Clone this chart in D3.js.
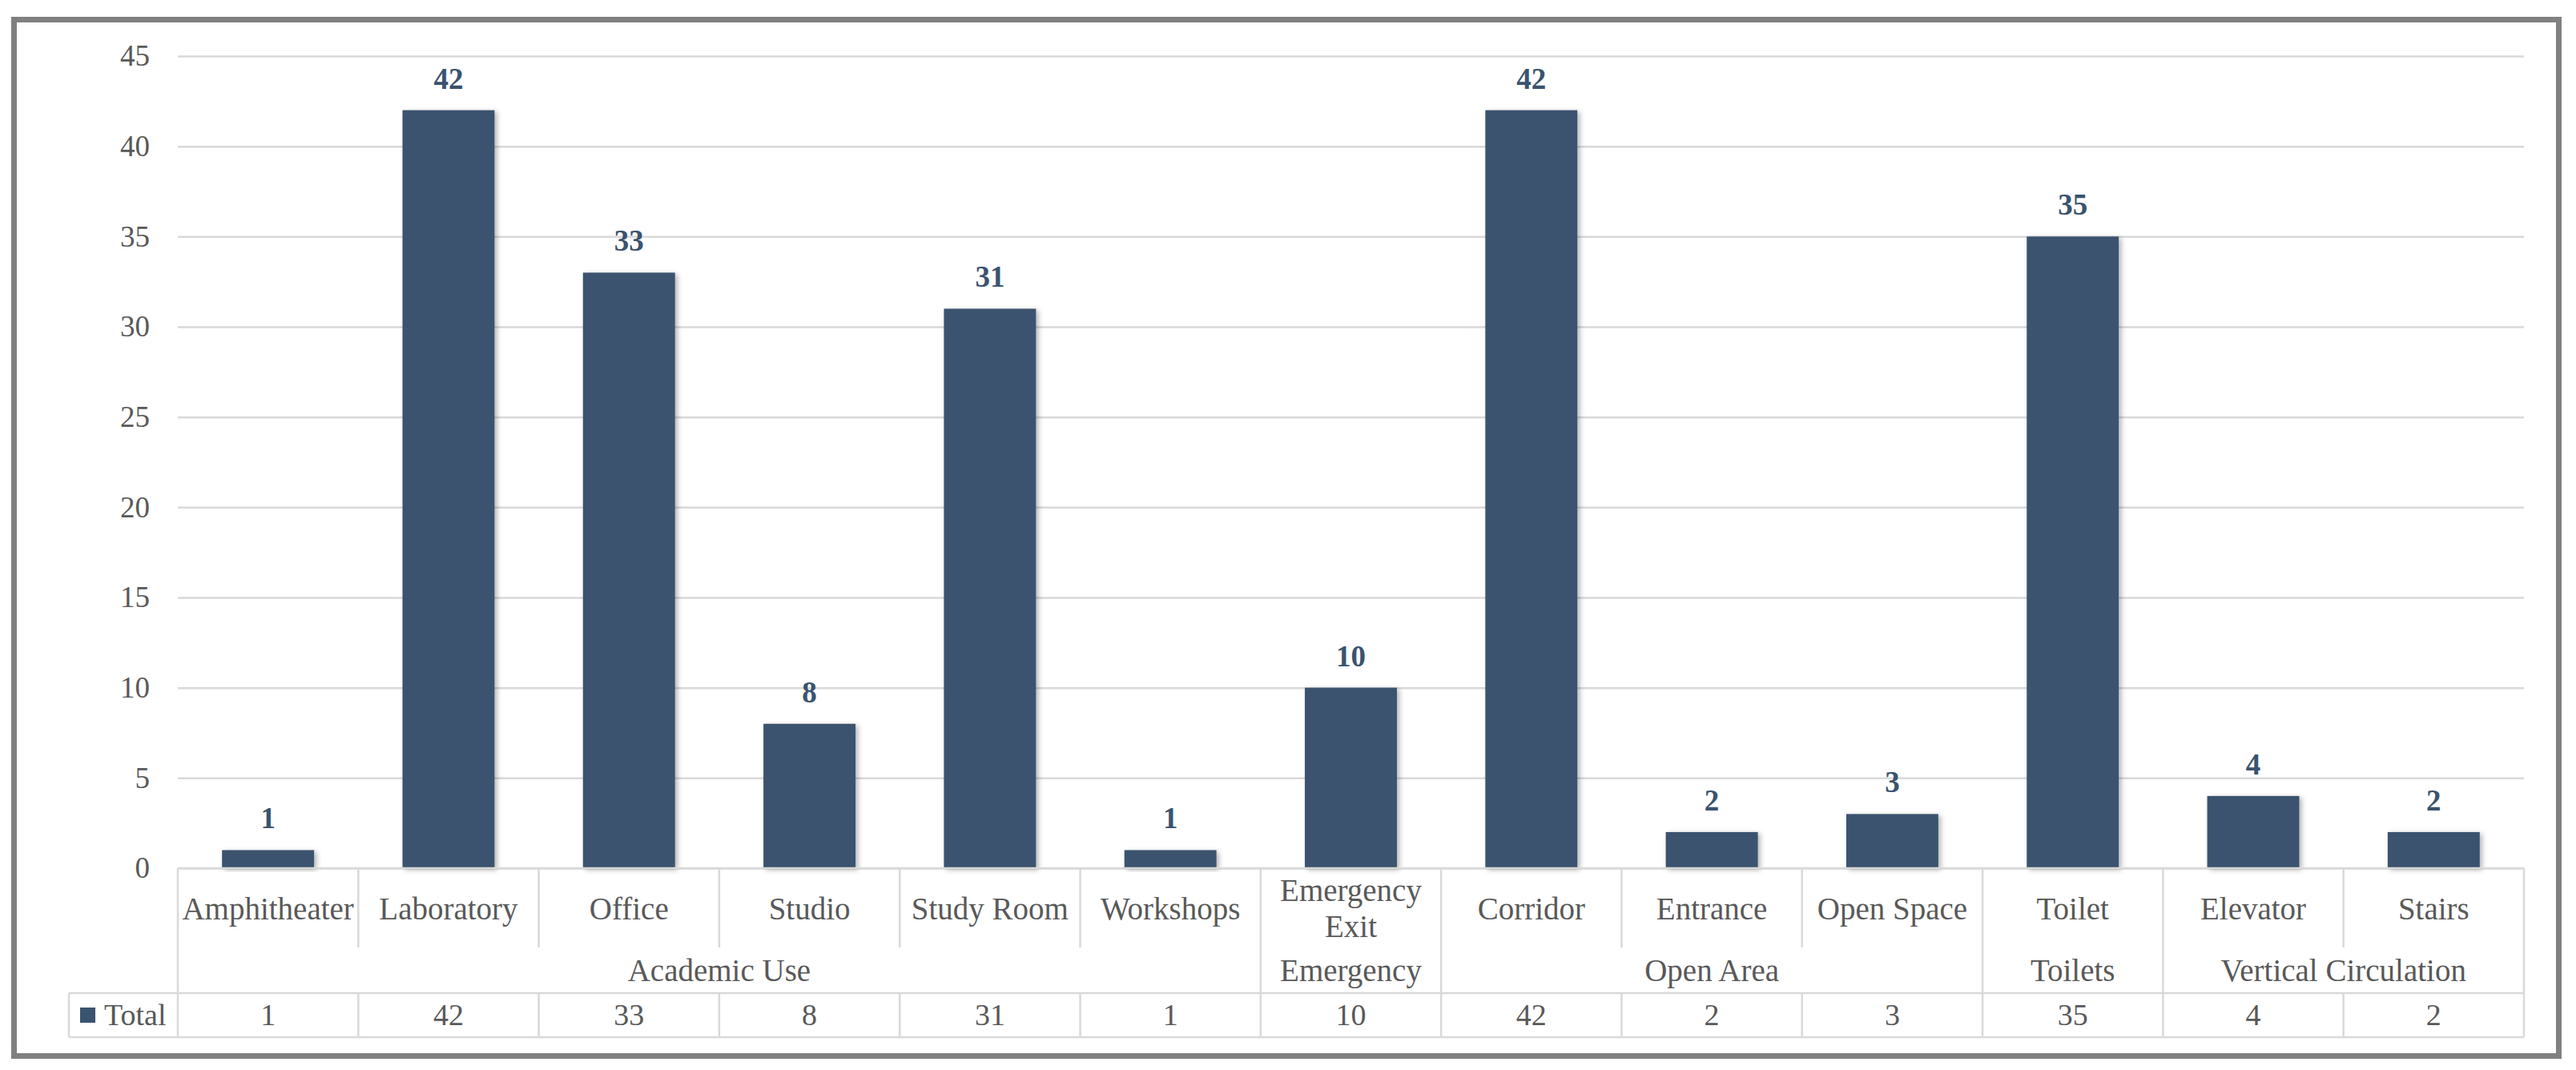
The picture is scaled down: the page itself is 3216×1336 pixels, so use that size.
<!DOCTYPE html>
<html>
<head>
<meta charset="utf-8">
<script src="https://cdn.jsdelivr.net/npm/d3@7/dist/d3.min.js"></script>
<style>
  html, body { margin: 0; padding: 0; background: #ffffff; }
  svg { display: block; }
  text { font-family: "Liberation Serif", "Times New Roman", serif; }
</style>
</head>
<body>
<svg id="chart" width="3216" height="1336"></svg>
<script>
// ---- Data ----
const categories = ["Amphitheater", "Laboratory", "Office", "Studio", "Study Room", "Workshops",
  "Emergency Exit", "Corridor", "Entrance", "Open Space", "Toilet", "Elevator", "Stairs"];
const groups = ["Academic Use", "Academic Use", "Academic Use", "Academic Use", "Academic Use", "Academic Use",
  "Emergency", "Open Area", "Open Area", "Open Area", "Toilets", "Vertical Circulation", "Vertical Circulation"];
const totals = [1, 42, 33, 8, 31, 1, 10, 42, 2, 3, 35, 4, 2];
const yTicks = [0, 5, 10, 15, 20, 25, 30, 35, 40, 45];
const seriesName = "Total";

// ---- Layout ----
const W = 3216, H = 1336;
const plotLeft = 222, plotRight = 3151;
const plotTop = 70, plotBottom = 1084;
const catRowBottom = 1183;   // end of category-label dividers
const groupRowBottom = 1240; // bottom of group-label row
const tableBottom = 1295;
const legendLeft = 86;

const barColor = "#3A536E";
const textColor = "#595959";
const lineColor = "#D9D9D9";

const svg = d3.select("#chart");

// drop shadow for bars
const defs = svg.append("defs");
const f = defs.append("filter").attr("id", "shadow").attr("x", "-20%").attr("y", "-20%").attr("width", "140%").attr("height", "140%");
f.append("feDropShadow").attr("dx", 3).attr("dy", 2).attr("stdDeviation", 3)
  .attr("flood-color", "#000").attr("flood-opacity", 0.3);

// outer frame
svg.append("rect")
  .attr("x", 17.5).attr("y", 24.5)
  .attr("width", 3194.5 - 17.5).attr("height", 1318.5 - 24.5)
  .attr("fill", "#fff").attr("stroke", "#808080").attr("stroke-width", 7);

// scales
const y = d3.scaleLinear().domain([0, 45]).range([plotBottom, plotTop]);
const xCol = d3.scaleBand().domain(d3.range(categories.length)).range([plotLeft, plotRight]).padding(0);
const xBar = d3.scaleBand().domain(d3.range(categories.length)).range([plotLeft, plotRight])
  .paddingInner(0.49).paddingOuter(0.245);

// y axis with gridlines
const yAxis = d3.axisLeft(y).tickValues(yTicks).tickSize(-(plotRight - plotLeft)).tickPadding(35);
const gAxis = svg.append("g").attr("transform", `translate(${plotLeft},0)`).call(yAxis);
gAxis.select(".domain").remove();
gAxis.selectAll(".tick line").attr("stroke", lineColor).attr("stroke-width", 2.5);
gAxis.selectAll(".tick text")
  .attr("fill", textColor)
  .style("font-family", '"Liberation Serif", "Times New Roman", serif')
  .style("font-size", "37px");

// bars
svg.append("g").selectAll("rect").data(totals).join("rect")
  .attr("x", (d, i) => xBar(i))
  .attr("y", d => y(d))
  .attr("width", xBar.bandwidth())
  .attr("height", d => y(0) - y(d))
  .attr("fill", barColor)
  .attr("filter", "url(#shadow)");

// bar value labels
svg.append("g").selectAll("text").data(totals).join("text")
  .attr("x", (d, i) => xBar(i) + xBar.bandwidth() / 2)
  .attr("y", d => y(d) - 27)
  .attr("text-anchor", "middle")
  .attr("fill", barColor)
  .style("font-size", "37px")
  .style("font-weight", "bold")
  .text(d => d);

// ---- Data table ----
const gT = svg.append("g").attr("stroke", lineColor).attr("stroke-width", 2.5).attr("fill", "none");
// horizontal lines
gT.append("line").attr("x1", plotLeft).attr("x2", plotRight).attr("y1", plotBottom).attr("y2", plotBottom);
gT.append("line").attr("x1", legendLeft).attr("x2", plotRight).attr("y1", groupRowBottom).attr("y2", groupRowBottom);
gT.append("line").attr("x1", legendLeft).attr("x2", plotRight).attr("y1", tableBottom).attr("y2", tableBottom);
gT.append("line").attr("x1", legendLeft).attr("x2", legendLeft).attr("y1", groupRowBottom).attr("y2", tableBottom);

// vertical lines
const boundaries = d3.range(categories.length + 1);
boundaries.forEach(i => {
  const xb = i < categories.length ? xCol(i) : plotRight;
  const isGroupEdge = i === 0 || i === categories.length || groups[i - 1] !== groups[i];
  if (isGroupEdge) {
    gT.append("line").attr("x1", xb).attr("x2", xb).attr("y1", plotBottom).attr("y2", tableBottom);
  } else {
    gT.append("line").attr("x1", xb).attr("x2", xb).attr("y1", plotBottom).attr("y2", catRowBottom);
    gT.append("line").attr("x1", xb).attr("x2", xb).attr("y1", groupRowBottom).attr("y2", tableBottom);
  }
});

// category labels (wrapped if needed)
const catG = svg.append("g");
categories.forEach((c, i) => {
  const cx = xCol(i) + xCol.bandwidth() / 2;
  const t = catG.append("text")
    .attr("x", cx).attr("y", 1148)
    .attr("text-anchor", "middle").attr("fill", textColor)
    .style("font-size", "39px").text(c);
  if (t.node().getComputedTextLength() > xCol.bandwidth() - 6) {
    const words = c.split(" ");
    t.text(null);
    const lh = 45;
    const y0 = 1125;
    words.forEach((w, k) => {
      t.append("tspan").attr("x", cx).attr("y", y0 + k * lh).text(w);
    });
  }
});

// group labels
const groupSpans = [];
groups.forEach((g, i) => {
  if (i === 0 || groups[i - 1] !== g) groupSpans.push({ name: g, start: i, end: i });
  else groupSpans[groupSpans.length - 1].end = i;
});
svg.append("g").selectAll("text").data(groupSpans).join("text")
  .attr("x", d => (xCol(d.start) + xCol(d.end) + xCol.bandwidth()) / 2)
  .attr("y", 1225)
  .attr("text-anchor", "middle").attr("fill", textColor)
  .style("font-size", "39px")
  .text(d => d.name);

// totals row
svg.append("g").selectAll("text").data(totals).join("text")
  .attr("x", (d, i) => xCol(i) + xCol.bandwidth() / 2)
  .attr("y", 1280)
  .attr("text-anchor", "middle").attr("fill", textColor)
  .style("font-size", "38px")
  .text(d => d);

// legend key in table
svg.append("rect").attr("x", 100).attr("y", 1258).attr("width", 19).attr("height", 19).attr("fill", barColor);
svg.append("text").attr("x", 130).attr("y", 1280).attr("fill", textColor)
  .style("font-size", "38px").text(seriesName);
</script>
</body>
</html>
